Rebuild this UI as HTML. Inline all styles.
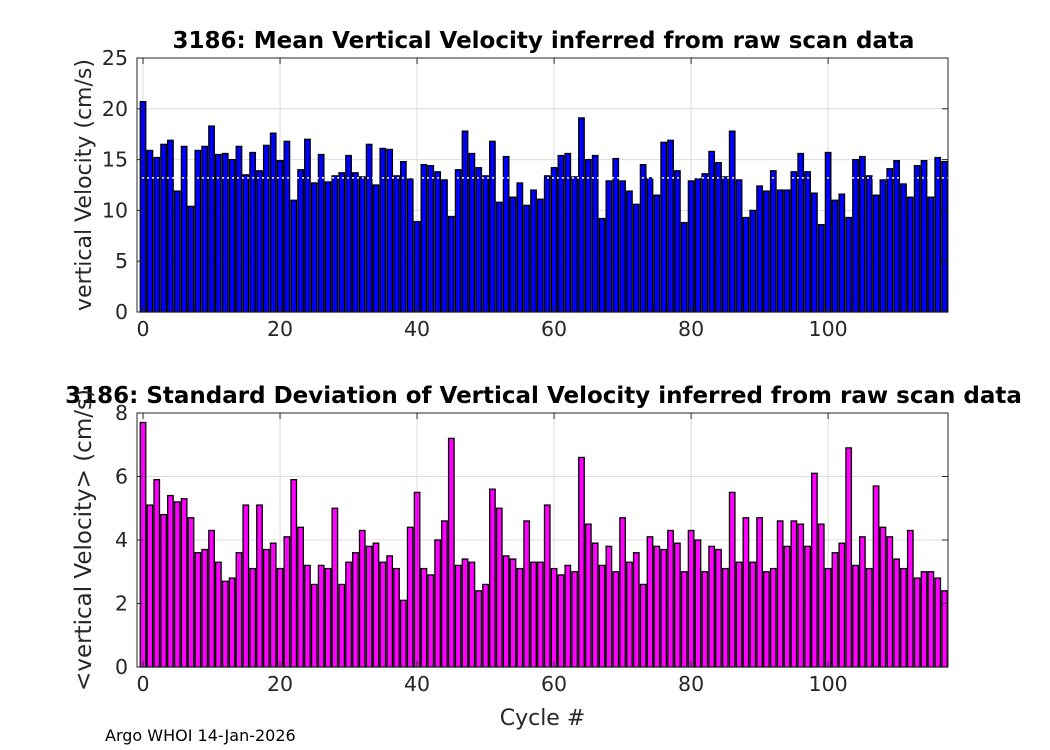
<!DOCTYPE html>
<html><head><meta charset="utf-8"><style>
html,body{margin:0;padding:0;background:#fff;width:1050px;height:750px;overflow:hidden}
svg{font-family:"DejaVu Sans","Liberation Sans",sans-serif}
</style></head><body>
<svg id="c" width="1050" height="750"></svg>
<script>
const meanVel=[20.7,15.9,15.2,16.5,16.9,11.9,16.3,10.4,15.9,16.3,18.3,15.5,15.6,15.0,16.3,13.5,15.7,13.9,16.4,17.6,14.9,16.8,11.0,14.0,17.0,12.7,15.5,12.8,13.4,13.7,15.4,13.7,13.3,16.5,12.5,16.1,16.0,13.4,14.8,13.1,8.9,14.5,14.4,13.8,13.0,9.4,14.0,17.8,15.6,14.2,13.4,16.8,10.8,15.3,11.3,12.7,10.5,12.0,11.1,13.4,14.2,15.4,15.6,13.3,19.1,15.0,15.4,9.2,12.9,15.1,12.9,11.9,10.6,14.5,13.2,11.5,16.7,16.9,13.9,8.8,12.9,13.1,13.6,15.8,14.7,13.3,17.8,13.0,9.3,10.0,12.4,11.9,13.9,12.0,12.0,13.8,15.6,13.8,11.7,8.6,15.7,11.0,11.6,9.3,15.0,15.3,13.4,11.5,13.0,14.1,14.9,12.6,11.3,14.4,14.9,11.3,15.2,14.8];
const stdVel=[7.7,5.1,5.9,4.8,5.4,5.2,5.3,4.7,3.6,3.7,4.3,3.3,2.7,2.8,3.6,5.1,3.1,5.1,3.7,3.9,3.1,4.1,5.9,4.4,3.2,2.6,3.2,3.1,5.0,2.6,3.3,3.6,4.3,3.8,3.9,3.3,3.5,3.1,2.1,4.4,5.5,3.1,2.9,4.0,4.6,7.2,3.2,3.4,3.3,2.4,2.6,5.6,5.0,3.5,3.4,3.1,4.6,3.3,3.3,5.1,3.1,2.9,3.2,3.0,6.6,4.5,3.9,3.2,3.8,3.0,4.7,3.3,3.6,2.6,4.1,3.8,3.7,4.3,3.9,3.0,4.3,4.0,3.0,3.8,3.7,3.1,5.5,3.3,4.7,3.3,4.7,3.0,3.1,4.6,3.8,4.6,4.5,3.8,6.1,4.5,3.1,3.6,3.9,6.9,3.2,4.1,3.1,5.7,4.4,4.1,3.4,3.1,4.3,2.8,3.0,3.0,2.8,2.4];
const meanLine=[13.2];
const xTicks=[0,20,40,60,80,100];
const yTicksTop=[0,5,10,15,20,25];
const yTicksBot=[0,2,4,6,8];

const svg=document.getElementById('c');
const NS='http://www.w3.org/2000/svg';
function mk(tag,attrs,parent){const e=document.createElementNS(NS,tag);for(const k in attrs)e.setAttribute(k,attrs[k]);(parent||svg).appendChild(e);return e;}
const L=137,R=948,xmin=-0.88,xmax=117.5;
const xs=v=>L+(v-xmin)/(xmax-xmin)*(R-L);
const bw=(xs(1)-xs(0))*0.8;

function panel(name,top,bot,ymax,yt,data,color,title,ylabel,hline,ylsize){
  const ys=v=>bot-v/ymax*(bot-top);
  const g=mk('g',{});
  
  
  mk('rect',{x:L,y:top,width:R-L,height:bot-top,fill:'#fff'},g);
  xTicks.forEach(t=>{const l=mk('line',{x1:xs(t),x2:xs(t),y1:top,y2:bot,stroke:'#dcdcdc','stroke-width':1},g);
    });
  yt.forEach(t=>{const l=mk('line',{x1:L,x2:R,y1:ys(t),y2:ys(t),stroke:'#dcdcdc','stroke-width':1},g);
    });
  data.forEach((v,i)=>{const r=mk('rect',{x:xs(i)-bw/2,y:ys(v),width:bw,height:bot-ys(v),fill:color,stroke:'#000','stroke-width':1.3},g);
    });
  if(hline){const l=mk('line',{x1:L,x2:R,y1:ys(hline[0]),y2:ys(hline[0]),stroke:'#fff','stroke-width':1.5,'stroke-dasharray':'2,3'},g);
    }
  mk('rect',{x:L,y:top,width:R-L,height:bot-top,fill:'none',stroke:'#262626','stroke-width':1},g);
  xTicks.forEach(t=>{mk('line',{x1:xs(t),x2:xs(t),y1:bot,y2:bot-6,stroke:'#262626'},g);mk('line',{x1:xs(t),x2:xs(t),y1:top,y2:top+6,stroke:'#262626'},g);
    const tx=mk('text',{x:xs(t),y:bot+24,'font-size':20.5,'text-anchor':'middle',fill:'#262626'},g);tx.textContent=t;
    });
  yt.forEach(t=>{mk('line',{x1:L,x2:L+6,y1:ys(t),y2:ys(t),stroke:'#262626'},g);mk('line',{x1:R,x2:R-6,y1:ys(t),y2:ys(t),stroke:'#262626'},g);
    const tx=mk('text',{x:L-9,y:ys(t)+7,'font-size':20.5,'text-anchor':'end',fill:'#262626'},g);tx.textContent=t;
    });
  const ti=mk('text',{x:(L+R)/2+1,y:top-10,'font-size':23,'font-weight':'bold','text-anchor':'middle',fill:'#000'},g);ti.textContent=title;
  
  const yl=mk('text',{x:0,y:0,'font-size':ylsize,'text-anchor':'middle',fill:'#262626',transform:`translate(91,${(top+bot)/2}) rotate(-90)`},g);yl.textContent=ylabel;
  
}
panel('mean-velocity-chart',58,312,25,yTicksTop,meanVel,'#0000ff','3186: Mean Vertical Velocity inferred from raw scan data','vertical Velocity (cm/s)',meanLine,22);
panel('std-velocity-chart',413,667,8,yTicksBot,stdVel,'#ff00ff','3186: Standard Deviation of Vertical Velocity inferred from raw scan data','<vertical Velocity> (cm/s)',null,23);
const xl=mk('text',{x:(L+R)/2,y:725,'font-size':22,'text-anchor':'middle',fill:'#262626'});xl.textContent='Cycle #';


const ft=mk('text',{x:105,y:741,'font-size':16,fill:'#000'});ft.textContent='Argo WHOI 14-Jan-2026';


</script>
</body></html>
